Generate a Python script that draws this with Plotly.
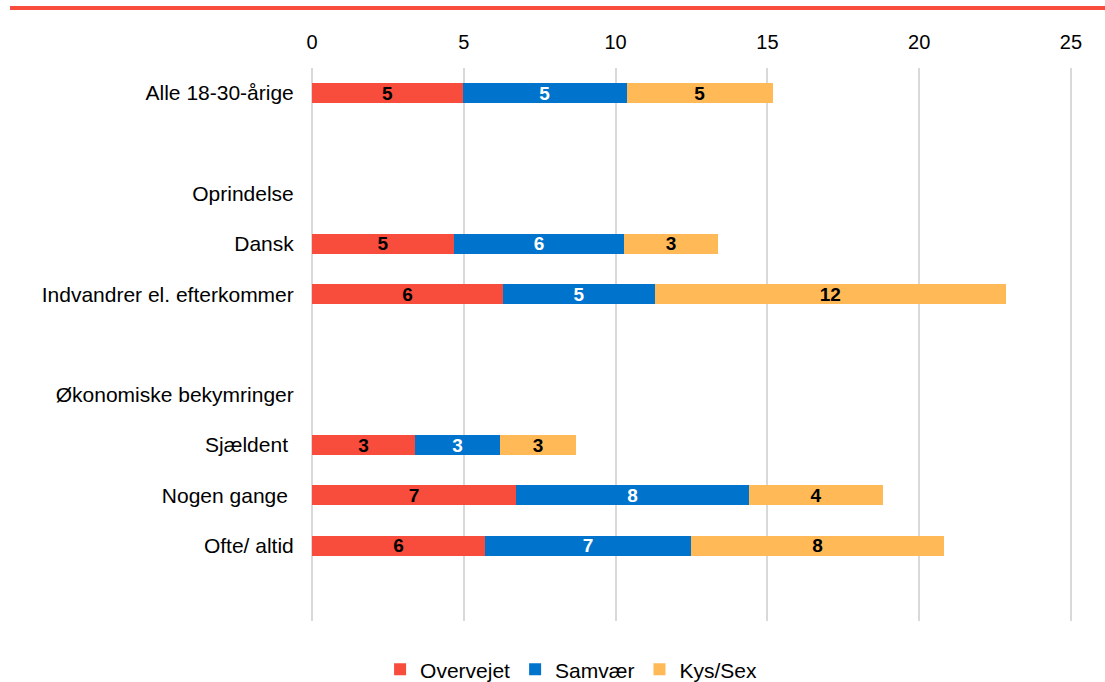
import plotly.graph_objects as go

categories = ["Alle 18-30-årige", "blank1", "Oprindelse", "Dansk", "Indvandrer el. efterkommer",
              "blank2", "Økonomiske bekymringer", "Sjældent\u00a0", "Nogen gange\u00a0", "Ofte/ altid", "blank3"]
tick_labels = ["Alle 18-30-årige", "", "Oprindelse", "Dansk", "Indvandrer el. efterkommer",
               "", "Økonomiske bekymringer", "Sjældent\u00a0", "Nogen gange\u00a0", "Ofte/ altid", ""]

overvejet = [4.97, None, None, 4.68, 6.29, None, None, 3.39, 6.72, 5.70, None]
samvaer   = [5.40, None, None, 5.60, 5.01, None, None, 2.80, 7.67, 6.78, None]
kys_sex   = [4.81, None, None, 3.09, 11.55, None, None, 2.51, 4.42, 8.34, None]

series = [("Overvejet", overvejet, "#F84C3C", "black"),
          ("Samvær", samvaer, "#0074CC", "white"),
          ("Kys/Sex", kys_sex, "#FFB957", "black")]

FONT = "Liberation Sans, Arial, sans-serif"

fig = go.Figure()
for name, vals, color, tcolor in series:
    fig.add_trace(go.Bar(
        y=categories, x=vals, name=name, orientation="h",
        marker=dict(color=color, line=dict(width=0)),
        text=[("%d" % int(v + 0.5)) if v is not None else "" for v in vals],
        textposition="inside", insidetextanchor="middle", textangle=0,
        textfont=dict(family=FONT, size=19, color=tcolor, weight="bold"),
        hoverinfo="skip",
    ))

PLOT_W = 762
fig.update_layout(
    barmode="stack", bargap=0.6,
    width=1105, height=682,
    margin=dict(l=312, r=1105 - 312 - PLOT_W, t=68, b=61, autoexpand=False),
    paper_bgcolor="white", plot_bgcolor="white",
    font=dict(family=FONT, size=21, color="black"),
    showlegend=True,
    legend=dict(orientation="h", x=0.34, xanchor="center", yref="container",
                y=0.018, yanchor="middle",
                font=dict(size=21), itemwidth=30, traceorder="normal"),
    uniformtext=dict(minsize=19, mode="show"),
)
fig.update_xaxes(side="top", range=[0, 25.1], tickvals=[0, 5, 10, 15, 20, 25], showgrid=True,
                 gridcolor="#D9D9D9", gridwidth=2,
                 zeroline=True, zerolinecolor="#D9D9D9", zerolinewidth=2, showline=False,
                 ticks="outside", ticklen=10, tickcolor="rgba(0,0,0,0)",
                 tickfont=dict(size=20))
fig.update_yaxes(type="category", categoryorder="array", categoryarray=categories,
                 tickvals=categories, ticktext=tick_labels, autorange="reversed",
                 showgrid=False, zeroline=False, showline=False,
                 ticks="outside", ticklen=13, tickcolor="rgba(0,0,0,0)",
                 tickfont=dict(size=21))

fig.add_shape(type="line", xref="paper", yref="paper",
              x0=(10 - 312) / PLOT_W, x1=(1105 - 312) / PLOT_W,
              y0=(621 - 8) / 553, y1=(621 - 8) / 553,
              line=dict(color="#F84C3C", width=4))

fig.write_html("out.html", config={"displayModeBar": False},
               post_script="document.body.style.margin='0';document.body.style.overflow='hidden';")
